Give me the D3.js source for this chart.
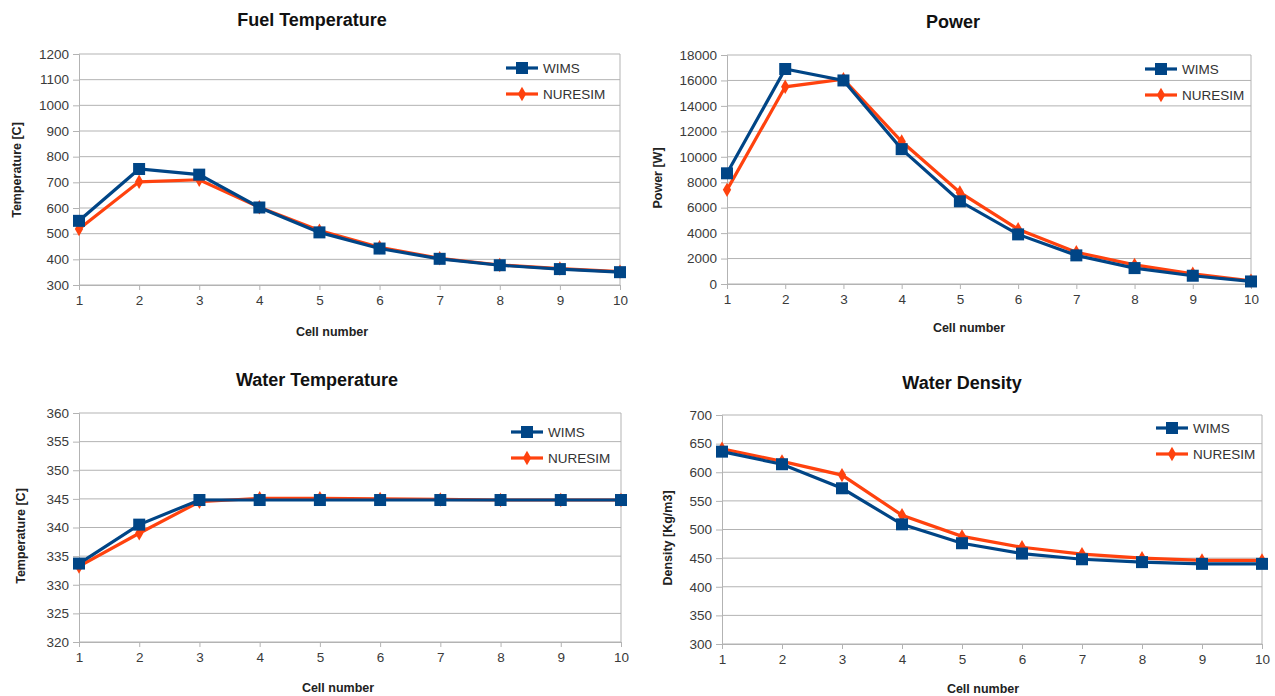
<!DOCTYPE html>
<html>
<head>
<meta charset="utf-8">
<script src="https://cdn.jsdelivr.net/npm/d3@7"></script>
<style>
  body { margin: 0; background: #fff; }
  svg { display: block; font-family: "Liberation Sans", Arial, sans-serif; }
</style>
</head>
<body>
<script>
// data
var cells = [1, 2, 3, 4, 5, 6, 7, 8, 9, 10];
var seriesNames = ["WIMS", "NURESIM"];

var fuelTempWims = [550, 752, 730, 602, 505, 442, 402, 377, 362, 350];
var fuelTempNuresim = [518, 702, 710, 603, 512, 447, 404, 378, 364, 352];
var fuelTempTicks = [300, 400, 500, 600, 700, 800, 900, 1000, 1100, 1200];

var powerWims = [8700, 16900, 16000, 10600, 6500, 3900, 2250, 1250, 650, 200];
var powerNuresim = [7400, 15500, 16100, 11200, 7200, 4300, 2500, 1500, 800, 250];
var powerTicks = [0, 2000, 4000, 6000, 8000, 10000, 12000, 14000, 16000, 18000];

var waterTempWims = [333.7, 340.5, 344.8, 344.8, 344.8, 344.8, 344.8, 344.8, 344.8, 344.8];
var waterTempNuresim = [333.2, 339.0, 344.5, 345.1, 345.1, 345.0, 344.9, 344.8, 344.8, 344.8];
var waterTempTicks = [320, 325, 330, 335, 340, 345, 350, 355, 360];

var densityWims = [636, 614, 572, 509, 476, 458, 448, 443, 440, 440];
var densityNuresim = [641, 619, 595, 525, 488, 469, 457, 450, 446, 446];
var densityTicks = [300, 350, 400, 450, 500, 550, 600, 650, 700];

var blue = "#004586",
  orange = "#ff420e",
  gridColor = "#b3b3b3",
  tickText = "#3a3a3a";

var svg = d3.select("body").append("svg").attr("width", 1275).attr("height", 696);

var panels = [
  {
    title: "Fuel Temperature", yTitle: "Temperature [C]",
    wims: fuelTempWims, nuresim: fuelTempNuresim, ticks: fuelTempTicks,
    x0: 79, x1: 620, y0: 54, y1: 285,
    titleX: 312, titleY: 26, xTitleX: 332, xTitleY: 336, yTitleX: 17, yTitleY: 170,
    legX: 506, legY: 68
  },
  {
    title: "Power", yTitle: "Power [W]",
    wims: powerWims, nuresim: powerNuresim, ticks: powerTicks,
    x0: 727, x1: 1251, y0: 55, y1: 284,
    titleX: 953, titleY: 28, xTitleX: 969, xTitleY: 332, yTitleX: 658, yTitleY: 178,
    legX: 1145, legY: 69
  },
  {
    title: "Water Temperature", yTitle: "Temperature [C]",
    wims: waterTempWims, nuresim: waterTempNuresim, ticks: waterTempTicks,
    x0: 79, x1: 621, y0: 413, y1: 642,
    titleX: 317, titleY: 386, xTitleX: 338, xTitleY: 692, yTitleX: 21, yTitleY: 536,
    legX: 511, legY: 432
  },
  {
    title: "Water Density", yTitle: "Density [Kg/m3]",
    wims: densityWims, nuresim: densityNuresim, ticks: densityTicks,
    x0: 722, x1: 1262, y0: 415, y1: 644,
    titleX: 962, titleY: 389, xTitleX: 983, xTitleY: 693, yTitleX: 668, yTitleY: 538,
    legX: 1156, legY: 428
  }
];

panels.forEach(drawPanel);

function drawPanel(p) {
  var g = svg.append("g");
  var x = d3.scaleLinear().domain([1, 10]).range([p.x0, p.x1]);
  var y = d3.scaleLinear()
    .domain([p.ticks[0], p.ticks[p.ticks.length - 1]])
    .range([p.y1, p.y0]);

  // horizontal grid
  g.append("g")
    .selectAll("line")
    .data(p.ticks)
    .enter()
    .append("line")
    .attr("x1", p.x0)
    .attr("x2", p.x1)
    .attr("y1", function (d) { return y(d); })
    .attr("y2", function (d) { return y(d); })
    .attr("stroke", gridColor)
    .attr("stroke-width", 1);

  // right border
  g.append("line")
    .attr("x1", p.x1).attr("x2", p.x1)
    .attr("y1", p.y0).attr("y2", p.y1)
    .attr("stroke", gridColor);

  // y axis
  var yAxis = g.append("g")
    .attr("transform", "translate(" + p.x0 + ",0)")
    .call(d3.axisLeft(y).tickValues(p.ticks).tickSize(6).tickPadding(4).tickFormat(d3.format("d")));
  yAxis.select(".domain").attr("stroke", gridColor);
  yAxis.selectAll(".tick line").attr("stroke", gridColor);
  yAxis.selectAll("text")
    .attr("fill", tickText)
    .style("font-size", "13.5px")
    .style("font-family", "Liberation Sans, Arial, sans-serif");

  // x axis
  var xAxis = g.append("g")
    .attr("transform", "translate(0," + p.y1 + ")")
    .call(d3.axisBottom(x).tickValues(cells).tickSize(5).tickPadding(5).tickFormat(d3.format("d")));
  xAxis.select(".domain").attr("stroke", gridColor);
  xAxis.selectAll(".tick line").attr("stroke", gridColor);
  xAxis.selectAll("text")
    .attr("fill", tickText)
    .style("font-size", "13.5px")
    .style("font-family", "Liberation Sans, Arial, sans-serif");

  // titles
  g.append("text")
    .attr("x", p.titleX).attr("y", p.titleY)
    .attr("text-anchor", "middle")
    .style("font-size", "18px").style("font-weight", "bold")
    .attr("fill", "#111")
    .text(p.title);

  g.append("text")
    .attr("x", p.xTitleX).attr("y", p.xTitleY)
    .attr("text-anchor", "middle")
    .style("font-size", "12.5px").style("font-weight", "bold")
    .attr("fill", "#222")
    .text("Cell number");

  g.append("text")
    .attr("transform", "translate(" + p.yTitleX + "," + p.yTitleY + ") rotate(-90)")
    .attr("text-anchor", "middle")
    .attr("dy", "0.35em")
    .style("font-size", "12.5px").style("font-weight", "bold")
    .attr("fill", "#222")
    .text(p.yTitle);

  var line = d3.line()
    .x(function (d, i) { return x(cells[i]); })
    .y(function (d) { return y(d); });

  // NURESIM drawn first, WIMS on top
  g.append("path")
    .datum(p.nuresim)
    .attr("d", line)
    .attr("fill", "none")
    .attr("stroke", orange)
    .attr("stroke-width", 3.2);

  g.append("g")
    .selectAll("path")
    .data(p.nuresim)
    .enter()
    .append("path")
    .attr("d", d3.symbol().type(d3.symbolDiamond).size(60))
    .attr("transform", function (d, i) { return "translate(" + x(cells[i]) + "," + y(d) + ")"; })
    .attr("fill", orange);

  g.append("path")
    .datum(p.wims)
    .attr("d", line)
    .attr("fill", "none")
    .attr("stroke", blue)
    .attr("stroke-width", 3.2);

  g.append("g")
    .selectAll("rect")
    .data(p.wims)
    .enter()
    .append("rect")
    .attr("x", function (d, i) { return x(cells[i]) - 6; })
    .attr("y", function (d) { return y(d) - 6; })
    .attr("width", 12)
    .attr("height", 12)
    .attr("fill", blue);

  // legend
  var leg = g.append("g").attr("transform", "translate(" + p.legX + "," + p.legY + ")");
  var legColors = [blue, orange];
  seriesNames.forEach(function (name, i) {
    var row = leg.append("g").attr("transform", "translate(0," + i * 26 + ")");
    row.append("line")
      .attr("x1", 0).attr("x2", 32)
      .attr("stroke", legColors[i]).attr("stroke-width", 3.2);
    if (i === 0) {
      row.append("rect")
        .attr("x", 10).attr("y", -6).attr("width", 12).attr("height", 12)
        .attr("fill", blue);
    } else {
      row.append("path")
        .attr("d", d3.symbol().type(d3.symbolDiamond).size(60))
        .attr("transform", "translate(16,0)")
        .attr("fill", orange);
    }
    row.append("text")
      .attr("x", 37).attr("dy", "0.35em")
      .style("font-size", "13.5px")
      .attr("fill", "#333")
      .text(name);
  });
}
</script>
</body>
</html>
